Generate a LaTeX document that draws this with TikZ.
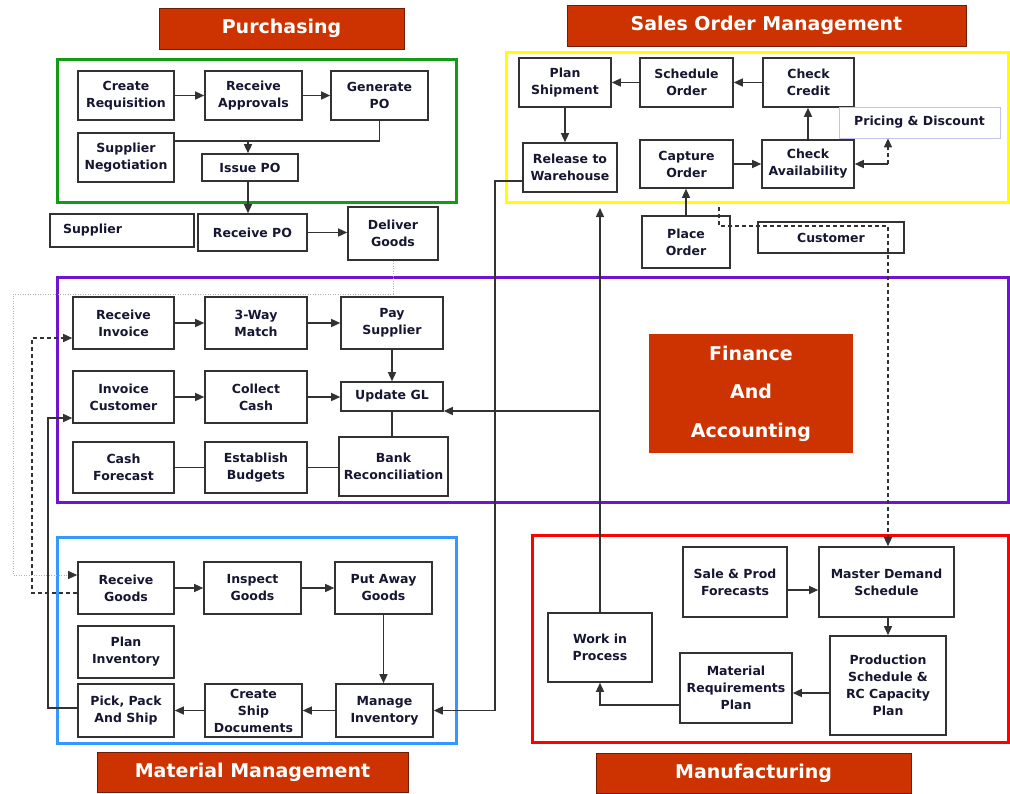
\documentclass[tikz,border=0pt]{standalone}
\usepackage{fontspec}
\setmainfont{DejaVu Sans}
\usetikzlibrary{arrows.meta}
\definecolor{hdred}{RGB}{204,51,0}
\definecolor{grpgreen}{RGB}{20,155,20}
\definecolor{grpyellow}{RGB}{255,255,0}
\definecolor{grppurple}{RGB}{110,20,210}
\definecolor{grpblue}{RGB}{51,153,255}
\definecolor{grpred}{RGB}{255,0,0}
\definecolor{boxline}{RGB}{50,50,50}
\definecolor{boxtext}{RGB}{22,22,50}
\definecolor{pricebox}{RGB}{195,195,235}
\begin{document}
\begin{tikzpicture}[x=1pt,y=-1pt,
  proc/.style={draw=boxline,line width=1.6pt,align=center,inner sep=2pt,text=boxtext,
    font=\fontsize{12.5}{17}\selectfont\bfseries},
  header/.style={draw=hdred!55!black,fill=hdred,text=white,line width=0.8pt,
    font=\fontsize{19}{24}\selectfont\bfseries},
  group/.style={line width=3pt},
  flow/.style={draw=boxline,line width=1.4pt,-{Triangle[length=9pt,width=8pt,color=boxline]}},
  link/.style={draw=boxline,line width=1.4pt},
  dashline/.style={dash pattern=on 4pt off 3pt},
  dotline/.style={draw=black!30,line width=0.8pt,dash pattern=on 1pt off 1.5pt}]
\useasboundingbox (0,0) rectangle (1010,793);
\draw[group,grpgreen] (57,59) rectangle (456,202);
\draw[group,grpyellow] (506,52) rectangle (1008,202);
\draw[group,grppurple] (57,277) rectangle (1008,502);
\draw[group,grpblue] (57,537) rectangle (456,743);
\draw[group,grpred] (532,535) rectangle (1008,742);
\node[header,minimum width=245,minimum height=41] (h-purch) at (281.5,28.5) {Purchasing};
\node[header,minimum width=399,minimum height=41] (h-sales) at (766.5,25.5) {Sales Order Management};
\node[header,draw=none,minimum width=204,minimum height=119,align=center,
  font=\fontsize{19}{38.5}\selectfont\bfseries] (h-fin) at (751,393.5) {Finance\\And\\Accounting};
\node[header,minimum width=311,minimum height=40] (h-mat) at (252.5,772) {Material Management};
\node[header,minimum width=315,minimum height=40] (h-mfg) at (753.5,773) {Manufacturing};
% purchasing
\node[proc,minimum width=96,minimum height=49] (creq) at (126,95.5) {Create\\Requisition};
\node[proc,minimum width=97,minimum height=49] (rapp) at (253.5,95.5) {Receive\\Approvals};
\node[proc,minimum width=97,minimum height=49] (genpo) at (379.5,95.5) {Generate\\PO};
\node[proc,minimum width=96,minimum height=49] (sneg) at (126,157.5) {Supplier\\Negotiation};
\node[proc,minimum width=96,minimum height=27] (ipo) at (250,167.5) {Issue PO};
\node[proc,minimum width=144,minimum height=33,align=left,text width=118,inner xsep=13] (supp) at (122,230.5) {Supplier};
\node[proc,minimum width=109,minimum height=37] (rpo) at (252.5,232.5) {Receive PO};
\node[proc,minimum width=90,minimum height=53] (dgoods) at (393,233.5) {Deliver\\Goods};
% sales order management
\node[proc,minimum width=92,minimum height=49] (pship) at (565,82.5) {Plan\\Shipment};
\node[proc,minimum width=93,minimum height=49] (sorder) at (686.5,82.5) {Schedule\\Order};
\node[proc,minimum width=91,minimum height=49] (ccredit) at (808.5,82.5) {Check\\Credit};
\node[proc,draw=pricebox,line width=0.8pt,minimum width=161,minimum height=31] (pricing) at (919.5,122.5) {Pricing \& Discount};
\node[proc,minimum width=94,minimum height=49] (rel) at (570,167.5) {Release to\\Warehouse};
\node[proc,minimum width=93,minimum height=48] (corder) at (686.5,164) {Capture\\Order};
\node[proc,minimum width=92,minimum height=48] (cavail) at (808,164) {Check\\Availability};
\node[proc,minimum width=88,minimum height=52] (porder) at (686,242) {Place\\Order};
\node[proc,minimum width=146,minimum height=31] (cust) at (831,237.5) {Customer};
% finance and accounting
\node[proc,minimum width=101,minimum height=52] (rinv) at (123.5,323) {Receive\\Invoice};
\node[proc,minimum width=102,minimum height=52] (twm) at (256,323) {3-Way\\Match};
\node[proc,minimum width=102,minimum height=52] (pays) at (392,323) {Pay\\Supplier};
\node[proc,minimum width=101,minimum height=52] (icust) at (123.5,397) {Invoice\\Customer};
\node[proc,minimum width=102,minimum height=52] (ccash) at (256,397) {Collect\\Cash};
\node[proc,minimum width=102,minimum height=29] (ugl) at (392,396.5) {Update GL};
\node[proc,minimum width=101,minimum height=51] (cfc) at (123.5,467.5) {Cash\\Forecast};
\node[proc,minimum width=102,minimum height=51] (ebud) at (256,467.5) {Establish\\Budgets};
\node[proc,minimum width=109,minimum height=59] (bank) at (393.5,466.5) {Bank\\Reconciliation};
% material management
\node[proc,minimum width=96,minimum height=52] (rgoods) at (126,588) {Receive\\Goods};
\node[proc,minimum width=97,minimum height=52] (igoods) at (252.5,588) {Inspect\\Goods};
\node[proc,minimum width=97,minimum height=52] (pagoods) at (383.5,588) {Put Away\\Goods};
\node[proc,minimum width=96,minimum height=52] (pinv) at (126,652) {Plan\\Inventory};
\node[proc,minimum width=96,minimum height=53] (ppack) at (126,710.5) {Pick, Pack\\And Ship};
\node[proc,minimum width=97,minimum height=53] (csd) at (253.5,710.5) {Create\\Ship\\Documents};
\node[proc,minimum width=97,minimum height=53] (minv) at (384.5,710.5) {Manage\\Inventory};
% manufacturing
\node[proc,minimum width=104,minimum height=70] (spf) at (735,582) {Sale \& Prod\\Forecasts};
\node[proc,minimum width=135,minimum height=70] (mds) at (886.5,582) {Master Demand\\Schedule};
\node[proc,minimum width=104,minimum height=69] (wip) at (600,647.5) {Work in\\Process};
\node[proc,minimum width=112,minimum height=70] (mrp) at (736,688) {Material\\Requirements\\Plan};
\node[proc,minimum width=116,minimum height=99] (psched) at (888,685.5) {Production\\Schedule \&\\RC Capacity\\Plan};
% connectors
\draw[flow] (creq) -- (rapp);
\draw[flow] (rapp) -- (genpo);
\coordinate (po-split) at (248,141);
\draw[link] (genpo.south) |- (po-split) -- (sneg.east |- po-split);
\draw[flow] (po-split) -- (po-split |- ipo.north);
\draw[flow] (po-split |- ipo.south) -- (po-split |- rpo.north);
\draw[flow] (rpo.east) -- (rpo.east -| dgoods.west);
\draw[flow] (ccredit) -- (sorder);
\draw[flow] (sorder) -- (pship);
\draw[flow] (pship.south) -- (pship.south |- rel.north);
\draw[flow] (corder) -- (cavail);
\draw[flow] (cavail.north) -- (cavail.north |- ccredit.south);
\coordinate (price-pt) at (888,164);
\draw[flow] (price-pt) -- (cavail.east);
\draw[flow,dashline] (price-pt) -- (price-pt |- pricing.south);
\draw[flow] (porder.north) -- (porder.north |- corder.south);
\coordinate (ord-tap) at (719,207);
\coordinate (dem-turn) at (888,226);
\draw[flow,dashline] (ord-tap) |- (dem-turn) -- (dem-turn |- mds.north);
\draw[flow] (rinv) -- (twm);
\draw[flow] (twm) -- (pays);
\draw[flow] (pays.south) -- (pays.south |- ugl.north);
\draw[flow] (icust) -- (ccash);
\draw[flow] (ccash.east) -- (ccash.east -| ugl.west);
\draw[link] (ugl.south) -- (ugl.south |- bank.north);
\draw[link] (cfc) -- (ebud);
\draw[link] (ebud.east) -- (ebud.east -| bank.west);
\draw[flow] (rgoods) -- (igoods);
\draw[flow] (igoods) -- (pagoods);
\draw[flow] (pagoods.south) -- (pagoods.south |- minv.north);
\draw[flow] (minv) -- (csd);
\draw[flow] (csd) -- (ppack);
\draw[flow] ([yshift=-8pt]spf.east) -- ([yshift=-8pt]mds.west);
\draw[flow] (psched.north |- mds.south) -- (psched.north);
\draw[flow] ([yshift=-7.5pt]psched.west) -- ([yshift=-7.5pt]psched.west -| mrp.east);
\draw[flow] ([yshift=-17pt]mrp.west) -| (wip.south);
\coordinate (wip-top) at (600,208);
\draw[flow] (wip.north) -- (wip-top);
\coordinate (gl-tap) at (600,411);
\draw[flow] (gl-tap) -- (gl-tap -| ugl.east);
\coordinate (mm-rail) at (495,0);
\draw[flow] ([yshift=-13.5pt]rel.west) -| (mm-rail |- minv.east) -- (minv.east);
\coordinate (inv-rail) at (32,0);
\coordinate (inv-in) at ([yshift=-15pt]rinv.west);
\draw[flow,dashline] ([yshift=-5pt]rgoods.west) -| (inv-rail |- inv-in) -- (inv-in);
\coordinate (ar-rail) at (48,0);
\coordinate (cust-in) at ([yshift=-21pt]icust.west);
\draw[flow] ([yshift=2.5pt]ppack.west) -| (ar-rail |- cust-in) -- (cust-in);
\coordinate (gr-top) at (13,294);
\draw[flow,dotline] (dgoods.south) |- (gr-top) |- ([yshift=13pt]rgoods.west);
\end{tikzpicture}
\end{document}
